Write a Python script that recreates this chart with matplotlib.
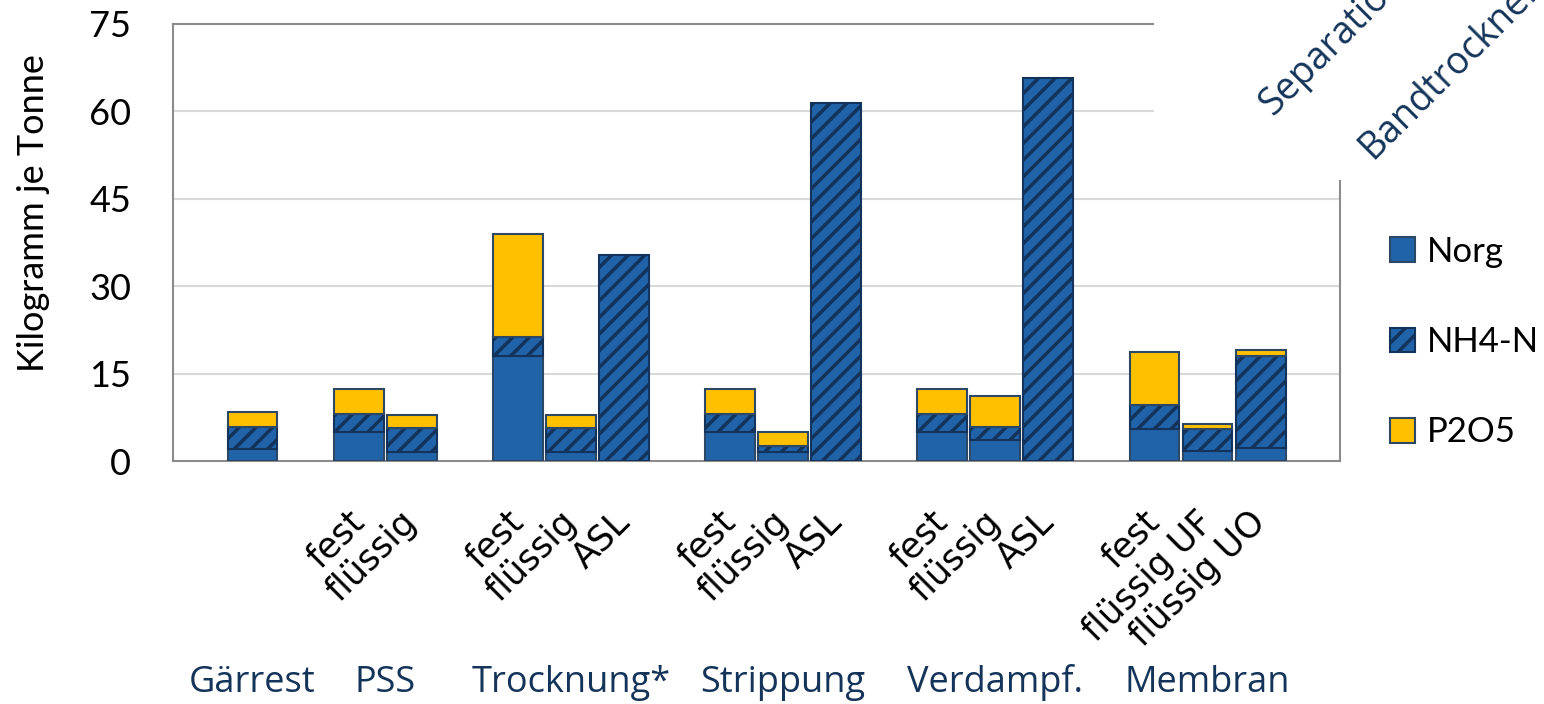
import numpy as np
import matplotlib.pyplot as plt
from matplotlib.patches import Rectangle

plt.rcParams['font.family'] = ['Lato', 'DejaVu Sans']
plt.rcParams['hatch.linewidth'] = 2.5

# Gruppen und Einzelbalken
groups = ['Gärrest', 'PSS', 'Trocknung*', 'Strippung', 'Verdampf.', 'Membran']
group_sizes = [1, 2, 3, 3, 3, 3]
bar_labels = ['',
              'fest', 'flüssig',
              'fest', 'flüssig', 'ASL',
              'fest', 'flüssig', 'ASL',
              'fest', 'flüssig', 'ASL',
              'fest', 'flüssig UF', 'flüssig UO']

# kg je Tonne
norg = np.array([2.0, 5.0, 1.5, 18.0, 1.5, 0, 5.0, 1.6, 0, 5.0, 3.7, 0, 5.5, 1.8, 2.2])
nh4 = np.array([3.8, 3.0, 4.1, 3.3, 4.1, 35.4, 3.0, 1.0, 61.5, 3.0, 2.1, 65.8, 4.1, 3.7, 15.8])
p2o5 = np.array([2.7, 4.3, 2.3, 17.7, 2.3, 0, 4.3, 2.4, 0, 4.3, 5.3, 0, 9.2, 0.95, 1.1])

side_labels = ['Separation', 'Bandtrockner']

blue = '#2163A9'
navy = '#13335A'
yellow = '#FFC000'
edge = '#2D4864'
label_blue = '#14345A'

# Positionen: jede Gruppe gefolgt von einer Leerstelle
pos = []
group_mid = []
slot = 1
for n in group_sizes:
    pos.extend(range(slot, slot + n))
    group_mid.append(slot + (n - 1) / 2)
    slot += n + 1
pos = np.array(pos, dtype=float)

fig = plt.figure(figsize=(15.44, 7.04), dpi=100)
ax = fig.add_axes([0.112, 0.345, 0.756, 0.621])

w = 0.94


def draw(values, bottom, **kw):
    m = values > 0
    ax.bar(pos[m], values[m], w, bottom=bottom[m], edgecolor=edge, linewidth=1.5, zorder=3, **kw)


zero = np.zeros_like(norg)
draw(norg, zero, color=blue, label='Norg')
ax.bar(pos, nh4, w, bottom=norg, color=blue, edgecolor=navy, hatch='//', linewidth=1.5,
       zorder=3, label='NH4-N')
draw(p2o5, norg + nh4, color=yellow, label='P2O5')

ax.set_xlim(-0.5, slot - 0.5)
ax.set_ylim(0, 75)
ax.set_yticks(np.arange(0, 76, 15))
ax.grid(axis='y', color='#D9D9D9', linewidth=1.5, zorder=0)
for s in ax.spines.values():
    s.set_color('#8C8C8C')
    s.set_linewidth(1.5)
ax.tick_params(length=0)
ax.tick_params(axis='y', labelsize=26, pad=30)
ax.set_xticks(pos, bar_labels, rotation=45, ha='right', va='center',
              rotation_mode='anchor', family='DejaVu Sans', fontsize=25)
ax.tick_params(axis='x', pad=40)

fig.text(0.022, 1 - 213 / 704, 'Kilogramm je Tonne', rotation=90, ha='center', va='center',
         fontsize=26)

# Gruppennamen unter der Achse
for name, m in zip(groups, group_mid):
    x_fig = fig.transFigure.inverted().transform(ax.transData.transform((m, 0)))[0]
    fig.text(x_fig, 1 - 692 / 704, name, ha='center', va='baseline', fontsize=26,
             color=label_blue, family='Open Sans')

# weisse Fläche oben rechts mit den schrägen Beschriftungen
fig.patches.append(Rectangle((0.7474, 0.744), 0.3, 0.3, transform=fig.transFigure,
                             facecolor='white', edgecolor='none', zorder=5))
fig.text(0.8245, 0.835, side_labels[0], rotation=45, rotation_mode='anchor', ha='left',
         va='baseline', fontsize=27, color=label_blue, family='Open Sans', zorder=6)
fig.text(0.889, 0.773, side_labels[1], rotation=45, rotation_mode='anchor', ha='left',
         va='baseline', fontsize=27, color=label_blue, family='Open Sans', zorder=6)

fig.legend(loc='center left', bbox_to_anchor=(0.9, 0.514), frameon=False, fontsize=25,
           handlelength=0.72, handleheight=0.72, handletextpad=0.35, labelspacing=1.68,
           borderpad=0, borderaxespad=0)

fig.savefig('out.png', dpi=100)
